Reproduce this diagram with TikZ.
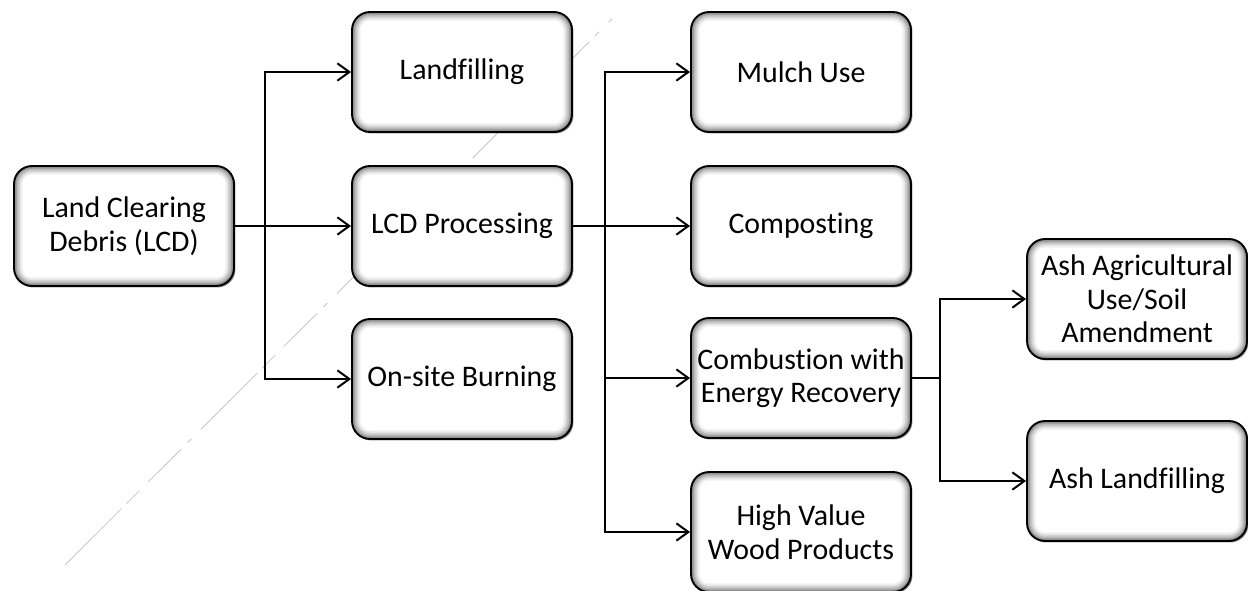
\documentclass[tikz,border=0pt]{standalone}
\usepackage{fontspec}
\setmainfont{Carlito}[Ligatures=NoCommon]
\usetikzlibrary{arrows.meta,shadows}

\tikzset{
  stagebox/.style={
    draw=black, line width=1.4pt, rounded corners=13.5pt,
    minimum width=165pt, minimum height=90pt, inner sep=2pt,
    align=center, text=black,
    font=\fontsize{22.4}{25.2}\selectfont,
    drop shadow={shadow xshift=1.1pt, shadow yshift=-1.1pt, opacity=0.45, fill=black},
    fill=white,
    path picture={
      \foreach \d/\c in {0/50,1.1/38,2.2/27,3.3/18,4.4/10,5.5/4,6.6/0}{
        \pgfmathsetmacro\rr{13.5-\d}
        \fill[black!\c, rounded corners=\rr pt]
          ([shift={(\d pt,\d pt)}]path picture bounding box.south west)
          rectangle
          ([shift={(-\d pt,-\d pt)}]path picture bounding box.north east);
      }
    }
  },
  flow/.style={line width=1.5pt, draw=black},
  flowarrow/.style={flow, -{Straight Barb[length=9pt,width=13pt,line width=1.5pt]}},
  faintline/.style={draw=black!22, line width=0.6pt,
    dash pattern=on 60pt off 5pt on 14pt off 9pt on 35pt off 7pt on 4pt off 10pt}
}

\begin{document}
\begin{tikzpicture}[x=0.75pt,y=-0.75pt]
  \useasboundingbox (0,0) rectangle (1248,590);

  % faint diagonal stroke running behind the boxes
  \coordinate (dgA) at (65,565);
  \coordinate (dgB) at (612,19);
  \path[faintline] (dgA) -- (dgB);

  % first column
  \node[stagebox] (lcd) at (124,226) {Land Clearing\\Debris (LCD)};

  % second column
  \node[stagebox] (land) at (462,72)  {Landfilling};
  \node[stagebox] (proc) at (462,226) {LCD Processing};
  \node[stagebox] (burn) at (462,379) {On-site Burning};

  % third column
  \node[stagebox] (mulch) at (801,72)  {Mulch Use};
  \node[stagebox] (comp)  at (801,226) {Composting};
  \node[stagebox] (comb)  at (801,378) {Combustion with\\Energy Recovery};
  \node[stagebox] (wood)  at (801,532) {High Value\\Wood Products};

  % fourth column
  \node[stagebox] (ashag) at (1137,299) {Ash Agricultural\\Use/Soil\\Amendment};
  \node[stagebox] (ashlf) at (1137,481) {Ash Landfilling};

  % branch points
  \coordinate (j1) at (265,226);
  \coordinate (j2) at (605,226);
  \coordinate (j3) at (940,378);

  % LCD to its three fates
  \draw[flow] (lcd.east) -- (j1);
  \draw[flowarrow] (j1) |- (land.west);
  \draw[flowarrow] (j1) -- (proc.west);
  \draw[flowarrow] (j1) |- (burn.west);

  % processing outputs
  \draw[flow] (proc.east) -- (j2);
  \draw[flowarrow] (j2) |- (mulch.west);
  \draw[flowarrow] (j2) -- (comp.west);
  \draw[flowarrow] (j2) |- (comb.west);
  \draw[flowarrow] (j2) |- (wood.west);

  % ash handling
  \draw[flow] (comb.east) -- (j3);
  \draw[flowarrow] (j3) |- (ashag.west);
  \draw[flowarrow] (j3) |- (ashlf.west);
\end{tikzpicture}
\end{document}
